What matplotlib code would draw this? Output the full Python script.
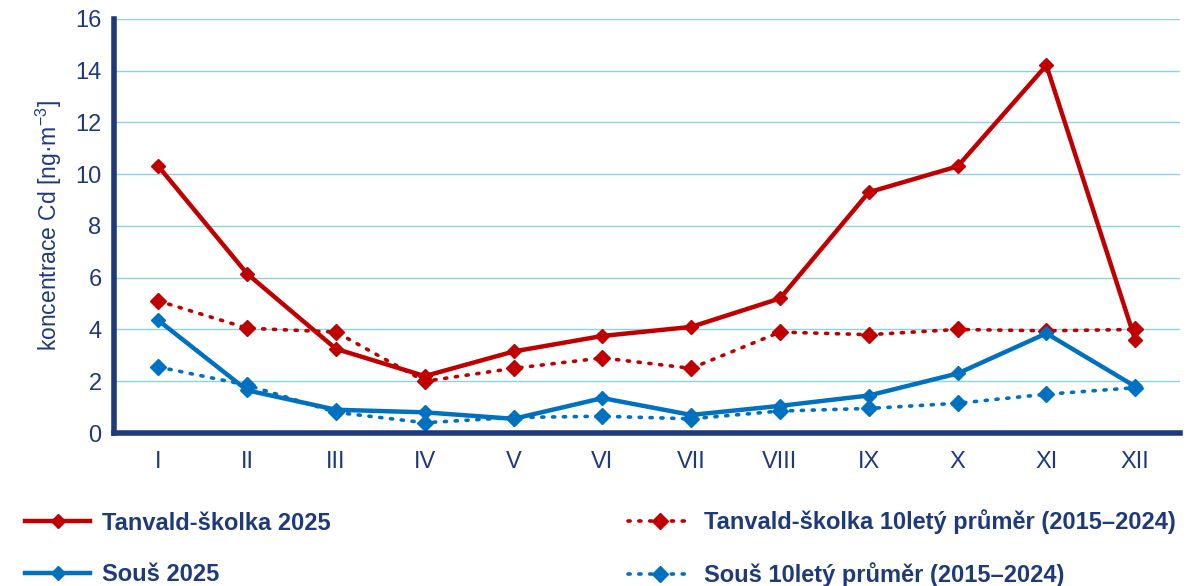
import matplotlib.pyplot as plt

plt.rcParams['font.family'] = ['Liberation Sans', 'DejaVu Sans']

mesice = ['I', 'II', 'III', 'IV', 'V', 'VI', 'VII', 'VIII', 'IX', 'X', 'XI', 'XII']
tanvald_2025 = [10.3, 6.15, 3.25, 2.2, 3.15, 3.75, 4.1, 5.2, 9.3, 10.3, 14.2, 3.6]
tanvald_prumer = [5.1, 4.05, 3.9, 2.0, 2.5, 2.9, 2.5, 3.9, 3.8, 4.0, 3.95, 4.0]
sous_2025 = [4.35, 1.65, 0.9, 0.8, 0.55, 1.35, 0.7, 1.05, 1.45, 2.3, 3.85, 1.8]
sous_prumer = [2.55, 1.85, 0.8, 0.4, 0.6, 0.65, 0.55, 0.85, 0.95, 1.15, 1.5, 1.75]

cervena = '#C00000'
modra = '#0070C0'
navy = '#1F3A7A'
mrizka = '#8AD4E2'

fig = plt.figure(figsize=(12, 5.86), dpi=100)
ax = fig.add_axes([0.095, 0.261, 0.888, 0.707])

x = list(range(len(mesice)))
plne = dict(lw=3.2, marker='D', ms=7, solid_joinstyle='round')
teckovane = dict(lw=2.6, marker='D', ms=8, linestyle=(0, (0.6, 2.4)), dash_capstyle='round')

l1, = ax.plot(x, tanvald_2025, color=cervena, **plne)
l2, = ax.plot(x, tanvald_prumer, color=cervena, **teckovane)
l3, = ax.plot(x, sous_2025, color=modra, **plne)
l4, = ax.plot(x, sous_prumer, color=modra, **teckovane)

ax.set_xlim(-0.5, 11.5)
ax.set_ylim(0, 16)
ax.set_yticks(range(0, 17, 2))
ax.set_xticks(x)
ax.set_xticklabels(mesice)
ax.yaxis.grid(True, color=mrizka, lw=1)
ax.set_axisbelow(True)
ax.tick_params(length=0, colors=navy, labelsize=17)
ax.tick_params(axis='x', pad=13)
ax.tick_params(axis='y', pad=9)
for s in ['top', 'right']:
    ax.spines[s].set_visible(False)
for s in ['left', 'bottom']:
    ax.spines[s].set_color(navy)
    ax.spines[s].set_linewidth(4)
ax.set_ylabel('koncentrace Cd [ng·m$^{\\mathregular{-3}}$]', color=navy, fontsize=16.5, labelpad=8)

leg_kw = dict(frameon=False, handlelength=2.75, handletextpad=0.5, labelspacing=1.2,
              borderpad=0, borderaxespad=0,
              prop={'weight': 'bold', 'size': 17}, labelcolor=navy, loc='upper left')
leg1 = fig.legend([l1, l3], ['Tanvald-školka 2025', 'Souš 2025'],
                  bbox_to_anchor=(0.021, 0.127), **leg_kw)
leg2 = fig.legend([l2, l4], ['Tanvald-školka 10letý průměr (2015–2024)',
                             'Souš 10letý průměr (2015–2024)'],
                  bbox_to_anchor=(0.523, 0.131), **leg_kw)

fig.savefig('out.png', dpi=100)
